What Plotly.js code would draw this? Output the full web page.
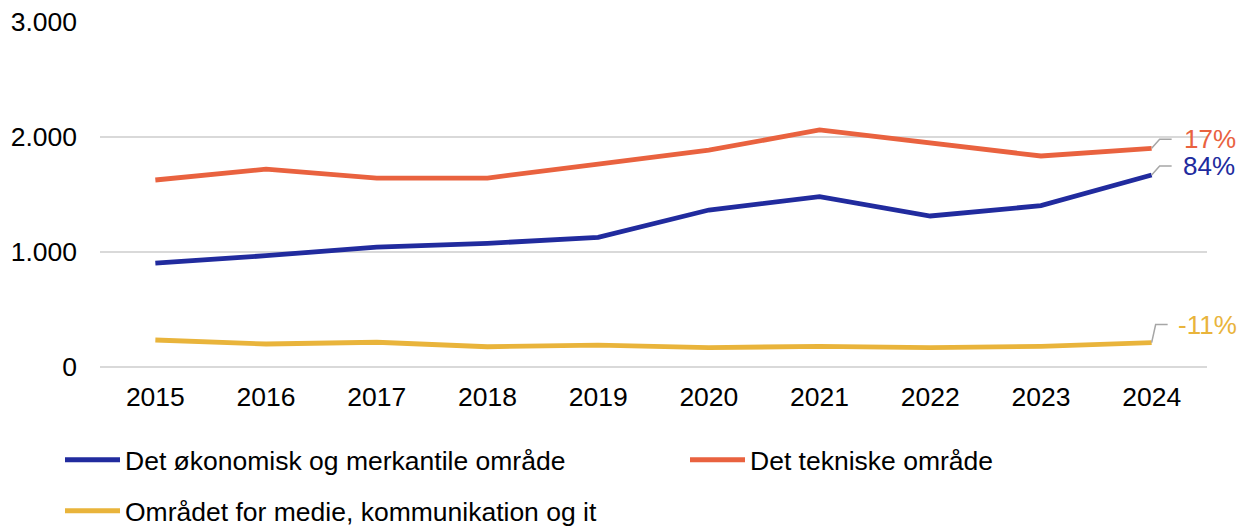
<!DOCTYPE html>
<html>
<head>
<meta charset="utf-8">
<script src="https://cdn.plot.ly/plotly-3.0.1.min.js"></script>
<style>
  html, body { margin: 0; padding: 0; background: #fff; }
  #myChart { width: 1240px; height: 528px; }
</style>
</head>
<body>
<div id="myChart"></div>
<script>
// Years on the x axis
var years = ["2015", "2016", "2017", "2018", "2019", "2020", "2021", "2022", "2023", "2024"];

// Series values
var okonomisk = [904, 968, 1043, 1075, 1127, 1365, 1481, 1313, 1403, 1670];
var teknisk = [1626, 1720, 1643, 1643, 1765, 1885, 2061, 1945, 1835, 1902];
var medie = [235, 200, 215, 176, 190, 168, 180, 168, 180, 212];

var seriesNames = [
  "Det økonomisk og merkantile område",
  "Det tekniske område",
  "Området for medie, kommunikation og it",
];
var seriesColors = ["#212b9e", "#e9623f", "#e9b43b"];
var endLabels = ["84%", "17%", "-11%"];

var allSeries = [okonomisk, teknisk, medie];
var legendIds = ["legend", "legend2", "legend3"];

var traces = [];
for (let i = 0; i < allSeries.length; i++) {
  traces.push({
    x: years,
    y: allSeries[i],
    name: seriesNames[i],
    type: "scatter",
    mode: "lines",
    line: { color: seriesColors[i], width: 4.8 },
    legend: legendIds[i],
    hoverinfo: "skip",
  });
}

// Leader lines (pixel paths anchored at the last point) and end labels
var leaderPaths = ["M0,0 L8,9 L20,9", "M0,0 L8,9 L20,9", "M0,0 L4,18 L16,18"];
var labelShift = [
  [29, 9],
  [30, 9],
  [24, 18],
];

var shapes = [];
var annotations = [];
var last = years.length - 1;
for (let i = 0; i < allSeries.length; i++) {
  shapes.push({
    type: "path",
    xref: "x",
    yref: "y",
    xsizemode: "pixel",
    ysizemode: "pixel",
    xanchor: last,
    yanchor: allSeries[i][last],
    path: leaderPaths[i],
    line: { color: "#a6a6a6", width: 1.5 },
  });
  annotations.push({
    x: last,
    y: allSeries[i][last],
    xref: "x",
    yref: "y",
    text: endLabels[i],
    showarrow: false,
    xanchor: "left",
    yanchor: "middle",
    xshift: labelShift[i][0],
    yshift: labelShift[i][1],
    font: { family: "Liberation Sans, Arial, sans-serif", size: 26, color: seriesColors[i] },
  });
}

// one legend box per entry so they can sit where the original has them
function legendBox(xpx, ypx) {
  return {
    orientation: "h",
    xref: "container",
    yref: "container",
    x: xpx / 1240,
    xanchor: "left",
    y: 1 - ypx / 528,
    yanchor: "middle",
    itemwidth: 55,
    font: { size: 26.5 },
    bgcolor: "rgba(0,0,0,0)",
  };
}

var layout = {
  width: 1240,
  height: 528,
  margin: { l: 100, r: 33, t: 22, b: 161 },
  paper_bgcolor: "#ffffff",
  plot_bgcolor: "#ffffff",
  separators: ",.",
  font: { family: "Liberation Sans, Arial, sans-serif", size: 26.5, color: "#000000" },
  xaxis: {
    type: "category",
    range: [-0.5, 9.5],
    showgrid: false,
    zeroline: false,
    showline: false,
    ticks: "",
    ticklabelstandoff: 11,
    tickfont: { size: 26.5 },
  },
  yaxis: {
    range: [0, 3000],
    dtick: 1000,
    tickformat: ",d",
    showgrid: true,
    gridcolor: "#d9d9d9",
    gridwidth: 1.5,
    zeroline: true,
    zerolinecolor: "#d9d9d9",
    zerolinewidth: 1.5,
    showline: false,
    ticks: "",
    ticklabelstandoff: 22,
    tickfont: { size: 26.5 },
  },
  showlegend: true,
  legend: legendBox(60, 460),
  legend2: legendBox(685, 460),
  legend3: legendBox(60, 511),
  shapes: shapes,
  annotations: annotations,
};

Plotly.newPlot("myChart", traces, layout, { displayModeBar: false, staticPlot: true });
</script>
</body>
</html>
